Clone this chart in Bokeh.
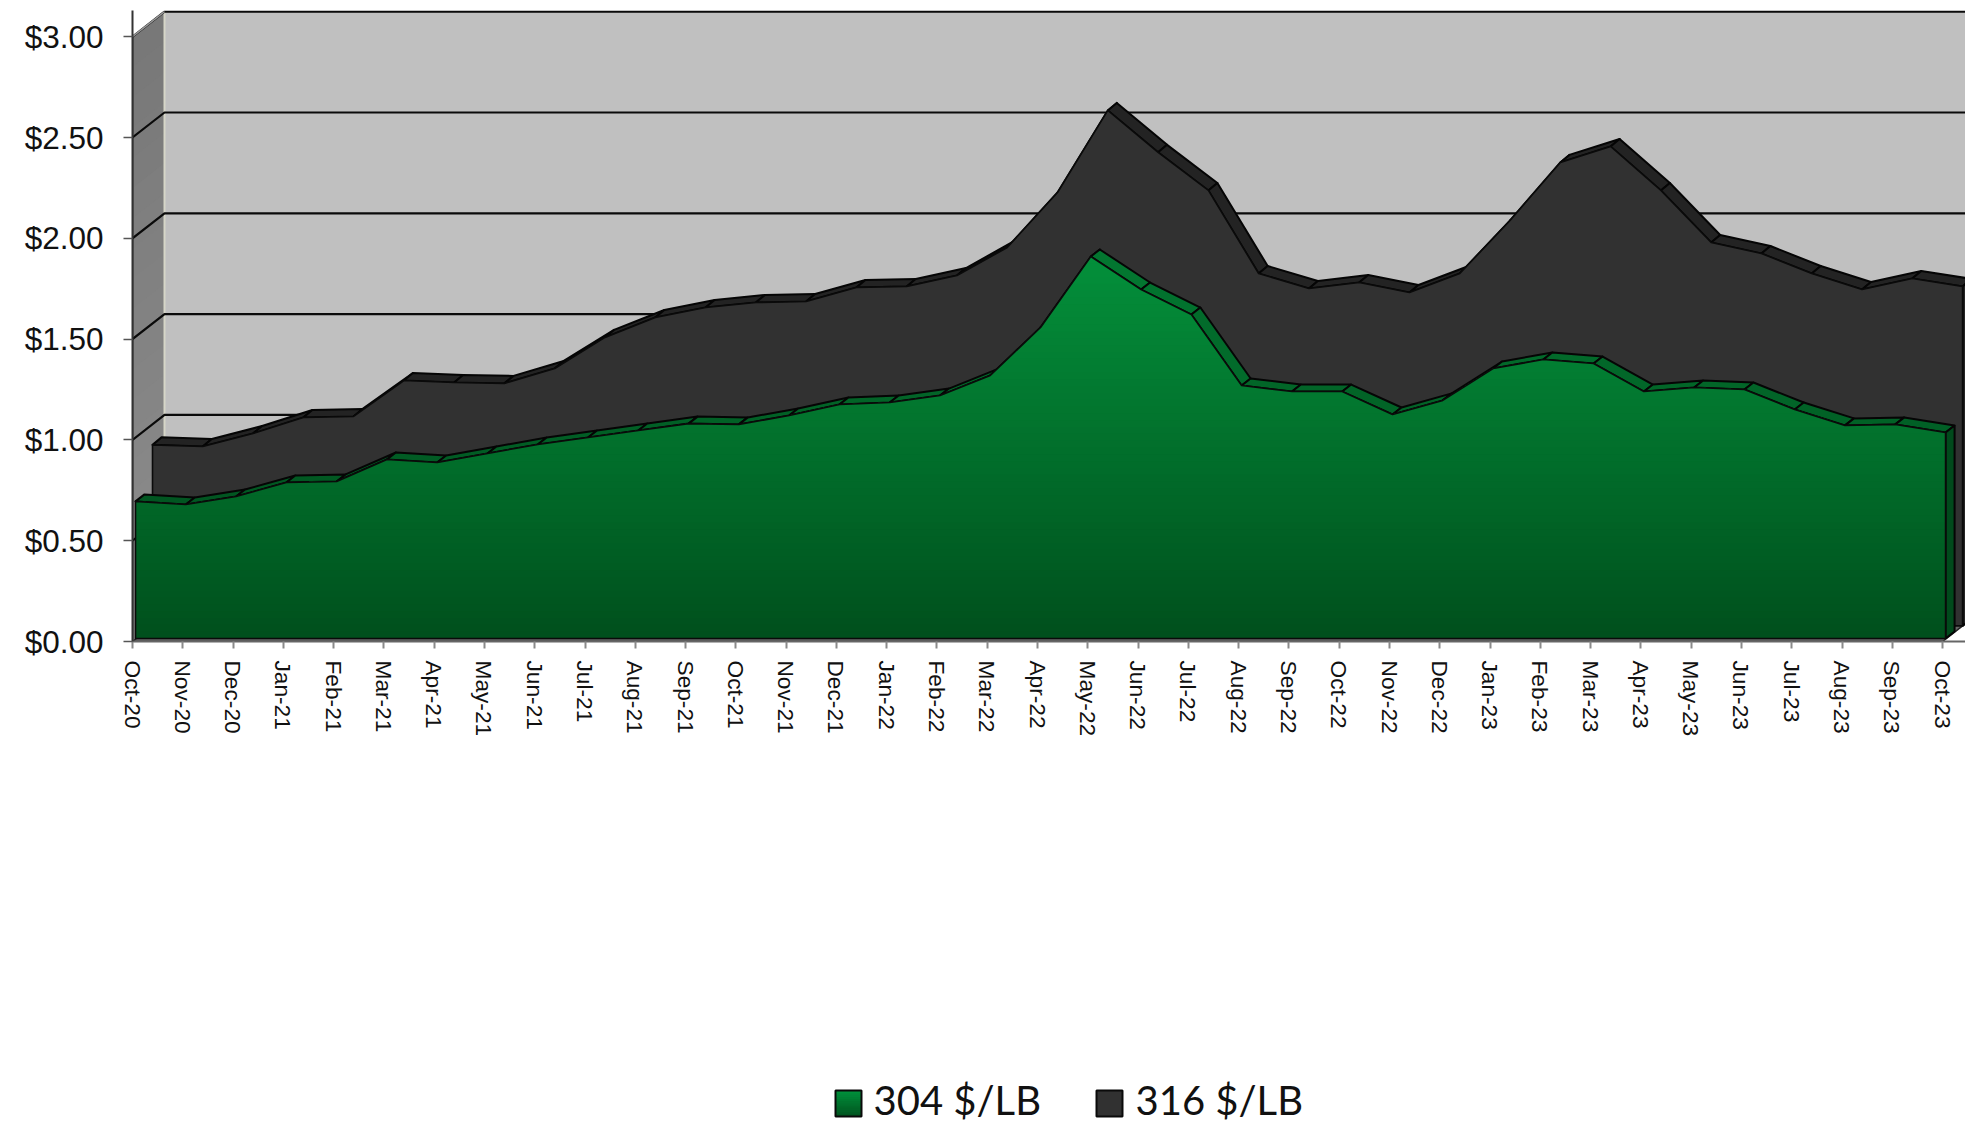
import numpy as np
from bokeh.plotting import figure
from bokeh.layouts import column
from bokeh.embed import file_html
from bokeh.resources import INLINE
from bokeh.core.properties import value
from bokeh.models import FixedTicker, NumeralTickFormatter

months = ["Oct-20","Nov-20","Dec-20","Jan-21","Feb-21","Mar-21","Apr-21","May-21","Jun-21","Jul-21","Aug-21","Sep-21",
          "Oct-21","Nov-21","Dec-21","Jan-22","Feb-22","Mar-22","Apr-22","May-22","Jun-22","Jul-22","Aug-22","Sep-22",
          "Oct-22","Nov-22","Dec-22","Jan-23","Feb-23","Mar-23","Apr-23","May-23","Jun-23","Jul-23","Aug-23","Sep-23","Oct-23"]
steel_304 = [0.680,0.665,0.704,0.774,0.779,0.888,0.873,0.918,0.962,0.997,1.032,1.066,
             1.062,1.106,1.161,1.171,1.205,1.305,1.543,1.895,1.731,1.607,1.255,1.225,
             1.225,1.111,1.181,1.339,1.384,1.364,1.225,1.245,1.235,1.136,1.057,1.062,1.022]
steel_316 = [0.898,0.890,0.954,1.034,1.039,1.217,1.207,1.203,1.277,1.431,1.530,1.579,
             1.604,1.609,1.679,1.684,1.738,1.877,2.150,2.557,2.349,2.160,1.748,1.674,
             1.703,1.654,1.748,2.011,2.299,2.378,2.160,1.902,1.847,1.748,1.669,1.723,1.684]
y_ticks = [0.0,0.5,1.0,1.5,2.0,2.5,3.0]
series_names = ["304 $/LB", "316 $/LB"]

PX_X, PX_Y = 50.28, 201.6          # pixels per month / per dollar
PAGE_W, PAGE_H, LEGEND_H = 1965, 1124, 66
FRAME_W, FRAME_H = PAGE_W - 132, 631

def ox(px): return px / PX_X
def oy(px): return px / PX_Y

p = figure(width=PAGE_W, height=PAGE_H - LEGEND_H, output_backend="svg", toolbar_location=None,
           x_range=(0, FRAME_W / PX_X), y_range=(0, FRAME_H / PX_Y),
           min_border_left=132, min_border_right=0, min_border_top=10,
           min_border_bottom=PAGE_H - LEGEND_H - FRAME_H - 10,
           background_fill_color="white", border_fill_color="white", outline_line_color=None)
p.grid.visible = False

# axes
ya = p.yaxis[0]
ya.ticker = FixedTicker(ticks=y_ticks)
ya.formatter = NumeralTickFormatter(format="$0.00")
ya.major_label_text_font = "Liberation Sans"
ya.major_label_text_font_size = "31.5px"
ya.major_label_text_color = "#111111"
ya.major_label_standoff = 20
ya.major_tick_out = 9
ya.major_tick_in = 0
ya.minor_tick_out = 0
ya.minor_tick_in = 0
ya.major_tick_line_color = "#555555"
ya.major_tick_line_width = 1.5
ya.axis_line_color = "#333333"
ya.axis_line_width = 2

xa = p.xaxis[0]
xa.ticker = FixedTicker(ticks=list(range(len(months))))
xa.major_label_overrides = {i: m for i, m in enumerate(months)}
xa.major_label_orientation = -np.pi / 2
xa.major_label_text_font = "Liberation Sans"
xa.major_label_text_font_size = "22.7px"
xa.major_label_text_color = "#111111"
xa.major_label_standoff = 12
xa.major_tick_out = 7
xa.major_tick_in = 0
xa.minor_tick_out = 0
xa.minor_tick_in = 0
xa.major_tick_line_color = "#8a8a8a"
xa.major_tick_line_width = 2
xa.axis_line_color = "#666666"
xa.axis_line_width = 2

DX, DY = ox(32), oy(25)
ymax = y_ticks[-1]

# walls
p.patch([DX, DX + 40, DX + 40, DX], [DY, DY, ymax + DY, ymax + DY], fill_color="#C0C0C0", line_color=None)
wall_n = 20
for k in range(wall_n, 0, -1):
    f = k / wall_n
    v = int(round(0x8e + (0x78 - 0x8e) * f))
    col = f"#{v:02x}{v:02x}{v:02x}"
    top = ymax * f
    p.patch([0, DX, DX, 0], [0, DY, top + DY, top], fill_color=col, line_color=None)
p.line([DX, DX], [DY, ymax + DY], line_color="#d6d6c8", line_width=2)
p.line([0, 0], [0, ymax], line_color="#444444", line_width=2)

# grid lines, running round the wall
for t in y_ticks[1:]:
    p.line([0, DX, 40], [t, t + DY, t + DY], line_color="#0a0a0a", line_width=2.2)
p.line([0, DX], [ymax, ymax + DY], line_color="#999999", line_width=1.5)

# floor
n = len(months)
p.patch([0, n - 1, n - 1 + DX, DX], [0, 0, DY, DY], fill_color="#666666", line_color="#222222", line_width=1.5)

def rgb(c): return f"#{int(c[0]):02x}{int(c[1]):02x}{int(c[2]):02x}"

def layer(values, off_x, off_y, lx, ly, ledge_col, side_col, line_w=1.5):
    x = np.arange(n) + ox(off_x)
    top = np.array(values) + oy(off_y)
    base = oy(off_y)
    dx, dy = ox(lx), oy(ly)
    # ledges
    for i in range(n - 1):
        col = ledge_col(top[i:i + 2].mean())
        p.patch([x[i], x[i + 1], x[i + 1] + dx, x[i] + dx],
                [top[i], top[i + 1], top[i + 1] + dy, top[i] + dy],
                fill_color=col, line_color="#050505", line_width=line_w, line_join="round")
    # right side face
    p.patch([x[-1], x[-1] + dx, x[-1] + dx, x[-1]],
            [base, base + dy, top[-1] + dy, top[-1]],
            fill_color=side_col, line_color="#050505", line_width=line_w)
    return x, top, base

# 316
LEDGE_316 = lambda v: "#232323"
x6, t6, b6 = layer(steel_316, 20, 15.6, 9, 7.5, LEDGE_316, "#262626", 2)
p.patch(np.r_[x6[0], x6, x6[-1]], np.r_[b6, t6, b6], fill_color="#313131",
        line_color="#0a0a0a", line_width=1.6, line_join="round")

# 304
G_TOP = np.array([0x04, 0x90, 0x3b], float)
G_BOT = np.array([0x00, 0x50, 0x1d], float)
v_top, v_bot = max(steel_304) + oy(3), oy(3)
def green(v):
    f = np.clip((v - v_bot) / (v_top - v_bot), 0, 1)
    return G_BOT + (G_TOP - G_BOT) * f
LEDGE_304 = lambda v: rgb(green(v) * 0.84)
x4, t4, b4 = layer(steel_304, 3, 3, 9, 7, LEDGE_304, "#014a1c", 2)

n_bands = 56
edges = np.linspace(b4, t4.max(), n_bands + 1)
cross = []
for e in edges:
    for i in range(n - 1):
        a, b = t4[i] - e, t4[i + 1] - e
        if a * b < 0:
            cross.append(x4[i] + (x4[i + 1] - x4[i]) * a / (a - b))
xs = np.unique(np.r_[x4, cross])
ts = np.interp(xs, x4, t4)
for k in range(n_bands, 0, -1):
    col = rgb(green((edges[k] + edges[k - 1]) / 2))
    p.varea(xs, np.full_like(xs, b4), np.minimum(ts, edges[k]), fill_color=col)
p.line(np.r_[x4[0], x4, x4[-1], x4[0], x4[0]], np.r_[b4, t4, b4, b4, t4[0]],
       line_color="#0a0a0a", line_width=1.6, line_join="round")

# legend strip, a figure of its own in page pixels (its frame lines up with the chart's)
q = figure(width=PAGE_W, height=LEGEND_H, output_backend="svg", toolbar_location=None,
           x_range=(132, PAGE_W), y_range=(0, LEGEND_H),
           x_axis_location=None, y_axis_location=None,
           min_border_left=132, min_border_right=0, min_border_top=0, min_border_bottom=0,
           background_fill_color="white", border_fill_color="white", outline_line_color=None)
q.grid.visible = False
SW, BASE = 26, 8
swatch_x = [835, 1096]
label_x = [873, 1135]
for k in range(12, 0, -1):
    f = k / 12
    h = SW * f
    col = rgb(np.array([0x00, 0x50, 0x1d]) + (np.array([0x00, 0x90, 0x3b]) - np.array([0x00, 0x50, 0x1d])) * f)
    q.quad(left=[swatch_x[0]], right=[swatch_x[0] + SW], bottom=[BASE], top=[BASE + h], fill_color=col, line_color=None)
q.quad(left=[swatch_x[0]], right=[swatch_x[0] + SW], bottom=[BASE], top=[BASE + SW], fill_color=None,
       line_color="#0a0a0a", line_width=2)
q.quad(left=[swatch_x[1]], right=[swatch_x[1] + SW], bottom=[BASE], top=[BASE + SW], fill_color="#313131",
       line_color="#0a0a0a", line_width=2)
q.text(x=label_x, y=[25, 25], text=series_names, text_font=value("Lato"),
       text_font_size=value("40px"), text_color="#111111", text_baseline="middle", text_align="left")

layout = column(p, q, spacing=0)
open("out.html", "w").write(file_html(layout, INLINE))
